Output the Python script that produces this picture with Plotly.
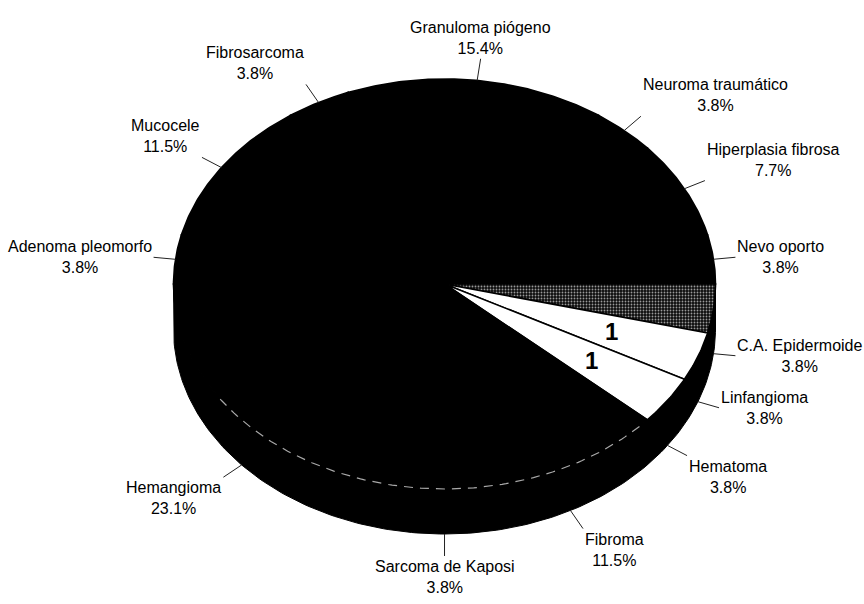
import numpy as np
import plotly.graph_objects as go

# Diagnosis counts (26 cases), listed clockwise starting just above 3 o'clock
categories = [
    "Nevo oporto", "C.A. Epidermoide", "Linfangioma", "Hematoma", "Fibroma",
    "Sarcoma de Kaposi", "Hemangioma", "Adenoma pleomorfo", "Mucocele",
    "Fibrosarcoma", "Granuloma piógeno", "Neuroma traumático", "Hiperplasia fibrosa",
]
counts = [1, 1, 1, 1, 3, 1, 6, 1, 3, 1, 4, 1, 2]

# Slice fills (everything else is solid black)
FILL_STYLE = {"Linfangioma": "white", "Hematoma": "white", "C.A. Epidermoide": "speckle"}

# Geometry of the tilted pie, in page pixels
CX, CY = 444.5, 284.0
RX, RY = 271.0, 205.0
DEPTH = 45.0
START_DEG = -13.85
LEADER_LEN = 22.0
INNER_R = 0.66

W, H = 864, 604
FONT = "Liberation Sans Narrow, Arial Narrow, Liberation Sans, Arial, sans-serif"

total = sum(counts)
fracs = np.array(counts) / total
edges = START_DEG + 360.0 * np.concatenate([[0.0], np.cumsum(fracs)])


def ell(theta_deg, r=1.0, dy=0.0):
    t = np.radians(theta_deg)
    return CX + r * RX * np.cos(t), CY + r * RY * np.sin(t) + dy


fig = go.Figure()

# Visible front wall of the disc
t_front = np.linspace(0, 180, 181)
xt, yt = ell(t_front)
xb, yb = ell(t_front[::-1], dy=DEPTH)
fig.add_trace(go.Scatter(
    x=np.concatenate([xt, xb, xt[:1]]), y=np.concatenate([yt, yb, yt[:1]]),
    mode="lines", fill="toself", fillcolor="black",
    line=dict(color="black", width=1), hoverinfo="skip",
))

# Top face slices
for name, a0, a1 in zip(categories, edges[:-1], edges[1:]):
    tt = np.linspace(a0, a1, max(8, int(abs(a1 - a0) * 2)))
    ax, ay = ell(tt)
    px = np.concatenate([[CX], ax, [CX]])
    py = np.concatenate([[CY], ay, [CY]])
    style = FILL_STYLE.get(name, "black")
    kw = dict(fillcolor=style)
    if style == "speckle":
        kw = dict(fillcolor="#0c0c0c",
                  fillpattern=dict(shape=".", fgcolor="#9a9a9a", bgcolor="#0c0c0c",
                                   size=3, solidity=0.3, fillmode="replace"))
    fig.add_trace(go.Scatter(
        x=px, y=py, mode="lines", fill="toself",
        line=dict(color="black", width=1.6), hoverinfo="skip", **kw,
    ))

# Faint highlight along the front rim of the top face
th = np.linspace(44, 147, 120)
hx, hy = ell(th)
fig.add_trace(go.Scatter(
    x=hx, y=hy, mode="lines", hoverinfo="skip",
    line=dict(color="rgba(225,225,225,0.75)", width=1.2, dash="9px,7px"),
))

# Leader lines and category labels
lx, ly = [], []
annotations = []
for name, v, f, a0, a1 in zip(categories, counts, fracs, edges[:-1], edges[1:]):
    mid = 0.5 * (a0 + a1)
    c, s = np.cos(np.radians(mid)), np.sin(np.radians(mid))
    if s > 0.05:
        x0, y0 = ell(mid, dy=DEPTH)
        ox, oy = CX, CY + DEPTH
    else:
        x0, y0 = ell(mid)
        ox, oy = CX, CY
    d = np.array([x0 - ox, y0 - oy])
    d = d / np.hypot(*d)
    x1, y1 = x0 + LEADER_LEN * d[0], y0 + LEADER_LEN * d[1]
    lx += [x0, x1, None]
    ly += [y0, y1, None]
    xa = "left" if c > 0.3 else ("right" if c < -0.3 else "center")
    ya = "top" if s > 0.4 else ("bottom" if s < -0.4 else "middle")
    annotations.append(dict(
        x=x1, y=y1, xref="x", yref="y", xanchor=xa, yanchor=ya,
        text=f"{name}<br>{f * 100:.1f}%", showarrow=False, align="center",
        font=dict(family=FONT, size=16, color="black"),
    ))
    # value labels inside the light slices
    if FILL_STYLE.get(name) == "white":
        vx, vy = ell(mid, r=INNER_R)
        annotations.append(dict(
            x=vx, y=vy, xref="x", yref="y", text=f"<b>{v}</b>", showarrow=False,
            font=dict(family="Liberation Sans, Arial, sans-serif", size=24, color="black"),
        ))

fig.add_trace(go.Scatter(
    x=lx, y=ly, mode="lines", hoverinfo="skip",
    line=dict(color="#222222", width=1),
))

fig.update_layout(
    width=W, height=H,
    margin=dict(l=0, r=0, t=0, b=0),
    paper_bgcolor="white", plot_bgcolor="white",
    showlegend=False, hovermode=False,
    xaxis=dict(range=[0, W], visible=False, fixedrange=True),
    yaxis=dict(range=[H, 0], visible=False, fixedrange=True),
    annotations=annotations,
)

fig.write_html("out.html")
